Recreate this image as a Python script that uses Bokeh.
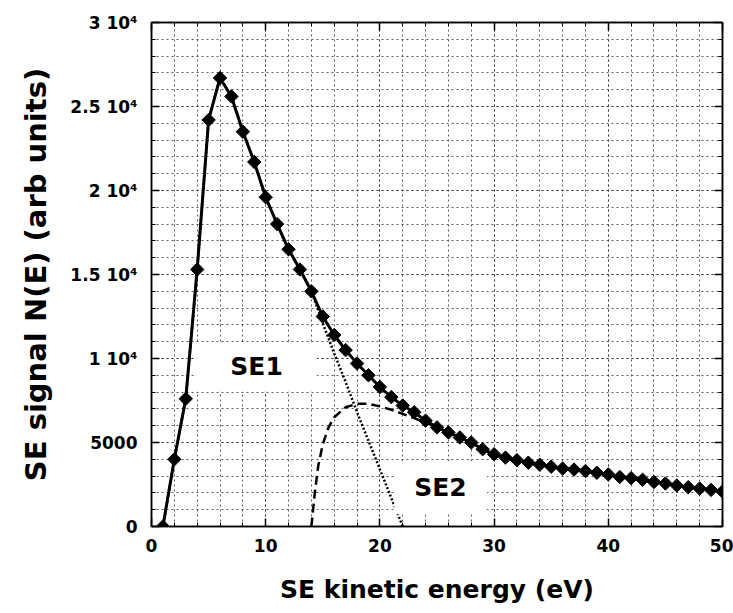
import math
from bokeh.plotting import figure
from bokeh.models import (ColumnDataSource, SingleIntervalTicker, LinearAxis, Label, Range1d)
from bokeh.embed import file_html
from bokeh.resources import INLINE

# ---- data ----
energy = list(range(1, 51))
signal = [0, 4000, 7600, 15300, 24200, 26700, 25600, 23500, 21700, 19600,
          18000, 16500, 15300, 14000, 12500, 11400, 10500, 9700, 9000, 8300,
          7700, 7200, 6800, 6300, 5900, 5600, 5300, 5000, 4600, 4300,
          4100, 3950, 3800, 3680, 3560, 3450, 3390, 3300, 3200, 3100,
          2950, 2880, 2780, 2650, 2560, 2440, 2340, 2260, 2180, 2080]

se1_energy = [1, 2, 3, 4, 5, 6, 7, 8, 9, 10, 11, 12, 13, 14, 15, 16, 17, 18, 19, 20, 21, 22]
se1_signal = [0, 4000, 7600, 15300, 24200, 26700, 25600, 23500, 21700, 19600,
              18000, 16500, 15300, 14000, 12100, 10300, 8600, 6800, 5100, 3400, 1700, 0]

se2_energy = [14.0, 14.3, 14.6, 15.0, 15.5, 16, 17, 18, 19, 20, 21, 22, 23, 24, 25]
se2_signal = [0, 2000, 3600, 4900, 5900, 6500, 7100, 7300, 7300, 7150, 6950, 6700, 6450, 6200, 5900]

x_tick_values = [0, 10, 20, 30, 40, 50]
y_tick_values = [0, 5000, 10000, 15000, 20000, 25000, 30000]
y_tick_labels = ["0", "5000", "1 10\u2074", "1.5 10\u2074", "2 10\u2074", "2.5 10\u2074", "3 10\u2074"]

x_label = "SE kinetic energy (eV)"
y_label = "SE signal N(E) (arb units)"

p = figure(width=733, height=610, output_backend="svg", toolbar_location=None,
           x_range=Range1d(0, 50), y_range=Range1d(0, 30000),
           min_border_left=151, min_border_right=11, min_border_top=22, min_border_bottom=84)
p.background_fill_color = "white"
p.border_fill_color = "white"
p.outline_line_color = "black"
p.outline_line_width = 1.5

xt = SingleIntervalTicker(interval=10, num_minor_ticks=5)
yt = SingleIntervalTicker(interval=5000, num_minor_ticks=5)
p.xaxis.ticker = xt
p.yaxis.ticker = yt
p.xgrid.ticker = xt
p.ygrid.ticker = yt

for g in (p.xgrid, p.ygrid):
    g.grid_line_color = "#333333"
    g.grid_line_dash = "2 3"
    g.grid_line_width = 1
    g.grid_line_alpha = 0.8
    g.minor_grid_line_color = "#333333"
    g.minor_grid_line_dash = "2 3"
    g.minor_grid_line_width = 1
    g.minor_grid_line_alpha = 0.8

p.yaxis.major_label_overrides = {v: t for v, t in zip(y_tick_values, y_tick_labels)}

for ax in (p.xaxis, p.yaxis):
    ax.axis_line_color = "black"
    ax.axis_line_width = 1.5
    ax.major_tick_in = 8
    ax.major_tick_out = 0
    ax.minor_tick_in = 4
    ax.minor_tick_out = 0
    ax.major_tick_line_width = 1.5
    ax.minor_tick_line_width = 1
    ax.major_label_text_font = "DejaVu Sans"
    ax.major_label_text_font_style = "bold"
    ax.major_label_text_font_size = "17px"
    ax.major_label_text_color = "black"
    ax.axis_label_text_font = "DejaVu Sans"
    ax.axis_label_text_font_style = "bold"
    ax.axis_label_text_color = "black"

p.xaxis.axis_label = x_label
p.yaxis.axis_label = y_label
p.xaxis.axis_label_text_font_size = "25px"
p.yaxis.axis_label_text_font_size = "29px"
p.xaxis.major_label_standoff = 12
p.xaxis.axis_label_standoff = 20
p.yaxis.major_label_standoff = 14
p.yaxis.axis_label_standoff = 14

# mirrored tick-only axes on right and top
for loc, tk, vals in (("right", yt, y_tick_values), ("above", xt, x_tick_values)):
    a = LinearAxis(ticker=tk)
    a.major_label_overrides = {v: "" for v in vals}
    a.major_label_standoff = 0
    a.major_tick_in = 8
    a.major_tick_out = 0
    a.minor_tick_in = 4
    a.minor_tick_out = 0
    a.axis_line_width = 1.5
    a.major_tick_line_width = 1.5
    p.add_layout(a, loc)

src = ColumnDataSource(dict(x=energy, y=signal))
se1 = ColumnDataSource(dict(x=se1_energy, y=se1_signal))
se2 = ColumnDataSource(dict(x=se2_energy, y=se2_signal))

p.line("x", "y", source=se1, line_color="black", line_width=2.5, line_dash="2 2")
p.line("x", "y", source=se2, line_color="black", line_width=2.5, line_dash="9 5")
p.line("x", "y", source=src, line_color="black", line_width=3)
p.scatter("x", "y", source=src, marker="square", angle=math.pi / 4, size=9.5,
          fill_color="black", line_color="black")

lab1 = Label(x=9.2, y=9500, text="SE1", text_align="center", text_baseline="middle",
             text_font="DejaVu Sans", text_font_style="bold", text_font_size="25px",
             text_color="black", background_fill_color="white", padding=(34, 10))
lab2 = Label(x=25.3, y=2300, text="SE2", text_align="center", text_baseline="middle",
             text_font="DejaVu Sans", text_font_style="bold", text_font_size="25px",
             text_color="black", background_fill_color="white", padding=(20, 12))
p.add_layout(lab1)
p.add_layout(lab2)

open("out.html", "w").write(file_html(p, INLINE))
